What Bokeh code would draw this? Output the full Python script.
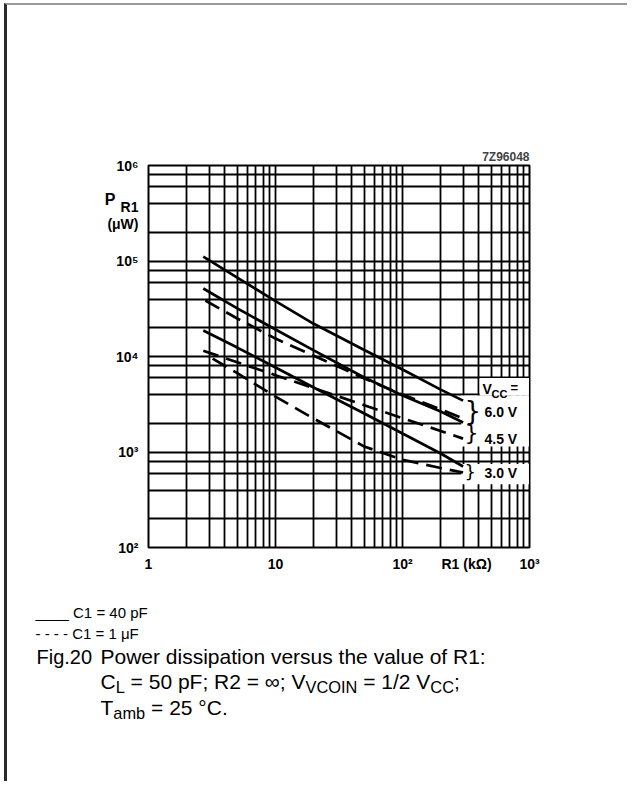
from bokeh.plotting import figure
from bokeh.models import (FixedTicker, Label, Range1d, CustomJSTickFormatter, Title,
                          LogAxis)
from bokeh.layouts import column
from bokeh.embed import file_html
from bokeh.resources import INLINE

# ---------------- data ----------------
r_kohm = [2.7, 5, 10, 20, 50, 100, 200, 300]
p_solid_6v0 = [1.11e5, 6.7e4, 3.8e4, 2.2e4, 1.17e4, 7.3e3, 4.5e3, 3.45e3]
p_solid_4v5 = [5.15e4, 3.19e4, 1.92e4, 1.16e4, 6.03e3, 3.91e3, 2.66e3, 2.04e3]
p_solid_3v0 = [1.87e4, 1.24e4, 7.67e3, 4.73e3, 2.53e3, 1.56e3, 964, 705]
r_dash_6v0 = [2.8, 5, 10, 20, 50, 100, 200, 300]
p_dash_6v0 = [3.86e4, 2.5e4, 1.54e4, 1.02e4, 5.89e3, 4.0e3, 2.79e3, 2.24e3]
r_dash_4v5 = [2.7, 5, 10, 20, 50, 100, 200, 300]
p_dash_4v5 = [1.15e4, 8.7e3, 6.37e3, 4.67e3, 3.09e3, 2.26e3, 1.66e3, 1.38e3]
r_dash_3v0 = [3.2, 5, 10, 20, 50, 100, 200, 300]
p_dash_3v0 = [9.5e3, 6.7e3, 3.8e3, 2.24e3, 1.14e3, 830, 680, 610]

x_major = [1, 10, 100, 1000]
x_minor = [m * d for d in (1, 10, 100) for m in range(2, 10)]
y_major = [1e2, 1e3, 1e4, 1e5, 1e6]
y_minor = [m * d for d in (1e2, 1e3, 1e4, 1e5) for m in (2, 4, 6, 8)]

# white label areas inside the grid (R1 in kOhm, P in uW)
box_left = [290, 405, 290]
box_right = [990, 990, 990]
box_bottom = [1.14e3, 3.9e3, 4.6e2]
box_top = [3.9e3, 5.95e3, 7.5e2]

vcc_labels = ["6.0 V", "4.5 V", "3.0 V"]

# ---------------- geometry ----------------
W = 620
HC, HB = 600, 176           # chart figure / caption figure heights
OX, OY = 7, 5               # chart canvas origin on the page
FL, FR, FT, FB = 148, 529, 165, 547   # frame edges on the page

def dx(px):
    return 10 ** (3 * (px - FL) / (FR - FL))

def dy(py):
    return 10 ** (2 + 4 * (FB - py) / (FB - FT))

# positions of the axis-title texts, placed as tick labels
x_title_tick = dx(468)       # "R1 (kΩ)"
y_sub_tick = dy(206)         # "R1" (subscript of P)
y_unit_tick = dy(223)        # "(μW)"
y_p_tick = dy(199)           # "P"

p = figure(width=W, height=HC, x_axis_type="log", y_axis_type="log",
           x_range=Range1d(1, 1000), y_range=Range1d(100, 1e6),
           output_backend="svg", toolbar_location=None,
           min_border_left=FL - OX, min_border_right=W - (FR - OX),
           min_border_top=FT - OY, min_border_bottom=HC - (FB - OY),
           background_fill_color="white", border_fill_color="white")
p.outline_line_color = "black"
p.outline_line_width = 2

fmt = CustomJSTickFormatter(code="""
const l = Math.log10(tick);
const e = Math.round(l);
if (Math.abs(l - e) > 0.02) {
  if (tick < 1e5) return "R1  (k\u03a9)";
  return tick > 3.5e5 ? "R1" : "(\u03bcW)";
}
const sup = ["\u2070","\u00b9","\u00b2","\u00b3","\u2074","\u2075","\u2076"];
if (e === 0) return "1";
if (e === 1) return "10";
return "10" + sup[e];
""")

def style_axis(ax, size):
    ax.axis_line_color = None
    ax.major_tick_line_color = None
    ax.minor_tick_line_color = None
    ax.major_tick_out = 0
    ax.major_tick_in = 0
    ax.minor_tick_out = 0
    ax.minor_tick_in = 0
    ax.major_label_text_font = "Liberation Sans"
    ax.major_label_text_font_style = "bold"
    ax.major_label_text_font_size = f"{size}px"
    ax.major_label_text_color = "black"

p.xaxis.ticker = FixedTicker(ticks=x_major + [x_title_tick], minor_ticks=[])
p.yaxis.ticker = FixedTicker(ticks=y_major + [y_sub_tick, y_unit_tick], minor_ticks=[])
for ax in (p.xaxis[0], p.yaxis[0]):
    ax.formatter = fmt
    style_axis(ax, 14)
p.yaxis.major_label_standoff = 10
p.xaxis.major_label_standoff = 8

# outer left axis carrying the "P" of P_R1
p_axis = LogAxis(ticker=FixedTicker(ticks=[y_p_tick], minor_ticks=[]),
                 formatter=CustomJSTickFormatter(code='return "P";'))
style_axis(p_axis, 16)
p_axis.major_label_standoff = -11
p.add_layout(p_axis, "left")

p.xgrid[0].ticker = FixedTicker(ticks=x_major, minor_ticks=x_minor)
p.ygrid[0].ticker = FixedTicker(ticks=y_major, minor_ticks=y_minor)
for g in (p.xgrid[0], p.ygrid[0]):
    g.grid_line_color = "black"
    g.grid_line_width = 1.8
    g.minor_grid_line_color = "black"
    g.minor_grid_line_width = 1.8

p.add_layout(Title(text="7Z96048", align="right", text_font="Liberation Sans",
                   text_font_style="bold", text_font_size="12px", standoff=3), "above")

# masks behind the V_CC labels
p.quad(left=box_left, right=box_right, bottom=box_bottom, top=box_top,
       fill_color="white", line_color=None)

DASH = "16 8"
series = [
    (r_kohm, p_solid_6v0, "solid"),
    (r_kohm, p_solid_4v5, "solid"),
    (r_kohm, p_solid_3v0, "solid"),
    (r_dash_6v0, p_dash_6v0, DASH),
    (r_dash_4v5, p_dash_4v5, DASH),
    (r_dash_3v0, p_dash_3v0, DASH),
]
for xs, ys, dash in series:
    p.line(xs, ys, line_color="black", line_width=2.7, line_dash=dash)

def label(px, py, text, size, bold=False, align="left", font="Liberation Sans"):
    p.add_layout(Label(x=dx(px), y=dy(py), text=text, text_font=font,
                       text_font_size=f"{size}px",
                       text_font_style="bold" if bold else "normal",
                       text_align=align, text_baseline="middle",
                       text_color="black"))

label(482, 388, "V", 14, bold=True)
label(491, 393, "CC", 11, bold=True)
label(510, 387, "=", 13, bold=True)
label(484, 411, vcc_labels[0], 14, bold=True)
label(484, 438, vcc_labels[1], 14, bold=True)
label(484, 472, vcc_labels[2], 14, bold=True)
label(464, 410, "}", 26, font="DejaVu Sans")
label(464, 432, "}", 22, font="DejaVu Sans")
label(464, 471, "}", 18, font="DejaVu Sans")

# ---------------- caption figure ----------------
CY0 = OY + HC               # page y where caption figure starts
q = figure(width=W, height=HB, x_range=Range1d(0, W), y_range=Range1d(HB, 0),
           output_backend="svg", toolbar_location=None, min_border=0,
           x_axis_location=None, y_axis_location=None,
           background_fill_color="white", border_fill_color="white")
q.outline_line_color = None
q.xgrid.visible = False
q.ygrid.visible = False
for fig in (p, q):
    try:
        fig.frame_align = False
    except Exception:
        pass

W1000 = {' ': 278, '=': 584, ';': 278, ':': 278, '.': 278, ',': 278, '/': 278,
         '\u00b0': 400, '\u221e': 713, '\u03bc': 576, '(': 333, ')': 333,
         '-': 333, '_': 556}
for c in "0123456789":
    W1000[c] = 556
W1000.update(dict(A=667, B=667, C=722, D=722, E=667, F=611, G=778, H=722, I=278,
                  J=500, K=667, L=556, M=833, N=722, O=778, P=667, Q=778, R=722,
                  S=667, T=611, U=722, V=667, W=944, X=667, Y=667, Z=611))
W1000.update(dict(a=556, b=556, c=500, d=556, e=556, f=278, g=556, h=556, i=222,
                  j=222, k=500, l=222, m=833, n=556, o=556, p=556, q=556, r=333,
                  s=500, t=278, u=556, v=500, w=722, x=500, y=500, z=500))

def tw(s, size):
    return sum(W1000.get(c, 556) for c in s) / 1000 * size

def qlabel(px, py, text, size):
    q.add_layout(Label(x=px - OX, y=py - CY0, text=text, text_font="Liberation Sans",
                       text_font_size=f"{size}px", text_align="left",
                       text_baseline="middle", text_color="black"))

def runs(px, py, parts, size, sub_ratio=0.78):
    x = px
    for txt, kind in parts:
        fs = size if kind == "n" else size * sub_ratio
        yy = py if kind == "n" else py + size * 0.25
        lead = len(txt) - len(txt.lstrip(" "))
        body = txt.strip(" ")
        if body:
            qlabel(x + tw(" " * lead, fs), yy, body, round(fs, 1))
        x += tw(txt, fs)

qlabel(35, 612, "____ C1 = 40 pF", 15)
qlabel(35, 633, "- - - -  C1 = 1 \u03bcF", 15)

CS = 21
qlabel(36, 656, "Fig.20", 20)
qlabel(100, 656, "Power dissipation versus the value of R1:", CS)
runs(100, 681, [("C", "n"), ("L", "s"), (" = 50 pF; R2 = \u221e; V", "n"),
                ("VCOIN", "s"), (" = 1/2 V", "n"), ("CC", "s"), (";", "n")], CS)
runs(100, 707, [("T", "n"), ("amb", "s"), (" = 25 \u00b0C.", "n")], CS)

page = column(p, q, spacing=0)
page.styles = {"margin-left": "4px", "margin-top": "3px",
               "border-left": "3px solid #2a2a2a", "border-top": "2px solid #9a9a9a"}

open("out.html", "w", encoding="utf-8").write(file_html(page, INLINE))
